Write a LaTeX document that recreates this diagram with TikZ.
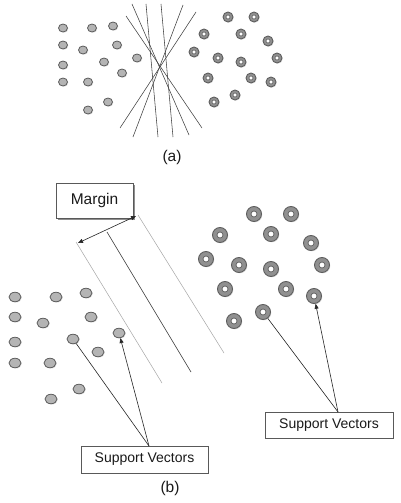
\documentclass[tikz,border=0pt]{standalone}
\usepackage{fontspec}
\setmainfont{Liberation Sans}
\usetikzlibrary{shapes.geometric,shadows,arrows.meta}
\definecolor{dotfill}{HTML}{B4B4B4}
\definecolor{dotedge}{HTML}{5E5E5E}
\definecolor{txt}{HTML}{1A1A1A}
\tikzset{
  dotA/.style={ellipse, fill=dotfill, draw=dotedge, line width=0.8pt, minimum width=9pt, minimum height=8pt, inner sep=0pt,
    drop shadow={shadow xshift=0.8pt, shadow yshift=-0.8pt, opacity=0.25}},
  dotB/.style={dotA, minimum width=12pt, minimum height=9.5pt},
  ringA/.style={circle, fill=dotfill!80!black, draw=dotedge, line width=0.9pt, minimum size=10pt, inner sep=0pt,
    drop shadow={shadow xshift=0.8pt, shadow yshift=-0.8pt, opacity=0.25},
    path picture={\draw[fill=white, draw=dotedge, line width=0.6pt] (path picture bounding box.center) circle (2pt);}},
  ringB/.style={ringA, minimum size=15pt,
    path picture={\draw[fill=white, draw=dotedge, line width=0.7pt] (path picture bounding box.center) circle (3pt);}},
  sepline/.style={draw=black!75, line width=0.55pt},
  marginline/.style={draw=black!35, line width=0.5pt},
  hyper/.style={draw=black!80, line width=0.6pt},
  labelbox/.style={draw=black!65, line width=0.5pt, fill=white, text=txt, inner sep=0pt},
  pointer/.style={draw=black!85, line width=0.6pt},
  tip/.style={-{Triangle[length=5pt,width=4pt]}},
}
\begin{document}
\begin{tikzpicture}[x=1pt,y=-1pt]
\useasboundingbox[fill=white] (0,0) rectangle (400,503);
% ---------- (a) ----------
\foreach \n/\x/\y in {1/63/28,2/92/28,3/113/26,4/63/45,5/83/50,6/117/45,7/63/65,8/104/62,9/137/58,10/122/73,11/63/82,12/88/82,13/108/102,14/88/110}
  \node[dotA] (da\n) at (\x,\y) {};
\foreach \n/\x/\y in {1/228/17,2/254/17,3/204/34,4/241/34,5/268/41,6/194/52,7/218/58,8/241/62,9/277/58,10/208/78,11/251/78,12/271/82,13/235/95,14/214/102}
  \node[ringA] (ra\n) at (\x,\y) {};
\coordinate (l1a) at (132,4);   \coordinate (l1b) at (189,135);
\coordinate (l2a) at (146,4);   \coordinate (l2b) at (158,137);
\coordinate (l3a) at (161,4);   \coordinate (l3b) at (173,137);
\coordinate (l4a) at (126,16);  \coordinate (l4b) at (202,128);
\coordinate (l5a) at (183,5);   \coordinate (l5b) at (133,137);
\coordinate (l6a) at (196,12);  \coordinate (l6b) at (120,128);
\foreach \i in {1,...,6} \draw[sepline] (l\i a) -- (l\i b);
\node[text=txt, font=\fontsize{15.5}{18}\selectfont] (capa) at (172,157) {(a)};
% ---------- (b) ----------
\foreach \n/\x/\y in {1/15/297,2/56/297,3/86/293,4/15/317,5/43/323,6/91/317,7/15/342,8/73/339,9/119/333,10/98/352,11/15/363,12/50/363,13/79/389,14/51/399}
  \node[dotB] (db\n) at (\x,\y) {};
\foreach \n/\x/\y in {1/254/214,2/291/214,3/220/235,4/271/234,5/311/243,6/206/259,7/239/265,8/271/269,9/322/265,10/225/289,11/286/289,12/314/296,13/263/312,14/234/321}
  \node[ringB] (rb\n) at (\x,\y) {};
% margin and hyperplane lines
\coordinate (m1a) at (76,242);  \coordinate (m1b) at (162,383);
\coordinate (ha)  at (107,232); \coordinate (hb)  at (191,372);
\coordinate (m2a) at (138,215); \coordinate (m2b) at (224,353);
\draw[marginline] (m1a) -- (m1b);
\draw[hyper] (ha) -- (hb);
\draw[marginline] (m2a) -- (m2b);
% margin box
\node[labelbox, minimum width=77pt, minimum height=35pt,
  drop shadow={shadow xshift=1.5pt, shadow yshift=-1.5pt, fill=black!55, opacity=0.8},
  font=\fontsize{15.5}{18}\selectfont] (margin) at (94.5,200.5) {Margin};
\coordinate (arrR) at (136,216);
\coordinate (arrL) at (78,243);
\draw[pointer, {Triangle[length=5pt,width=4pt]}-{Triangle[length=5pt,width=4pt]}] (arrL) -- (arrR);
% support vector boxes
\node[labelbox, minimum width=127pt, minimum height=27pt, font=\fontsize{14}{16}\selectfont] (svl) at (144.5,459.5) {Support Vectors};
\node[labelbox, minimum width=128pt, minimum height=26pt, font=\fontsize{14}{16}\selectfont] (svr) at (329,425) {Support Vectors};
\coordinate (svlp) at (149,446);
\coordinate (svrp) at (338,412);
\draw[pointer] (svlp) -- (db8);
\draw[pointer, tip] (svlp) -- (db9);
\draw[pointer] (svrp) -- (rb13);
\draw[pointer, tip] (svrp) -- (rb12);
\node[text=txt, font=\fontsize{15.5}{18}\selectfont] (capb) at (170,488) {(b)};
\end{tikzpicture}
\end{document}
